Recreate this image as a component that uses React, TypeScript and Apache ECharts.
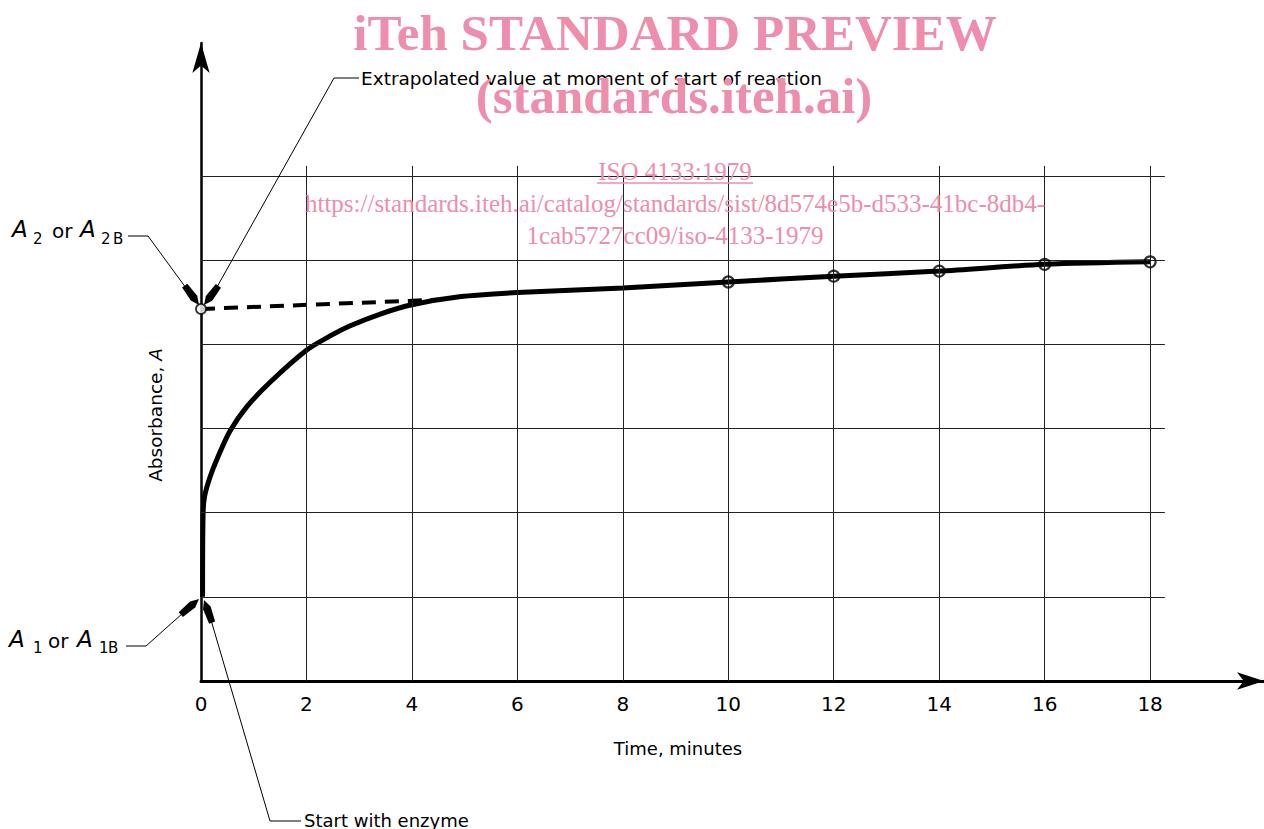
import React, { useEffect, useRef } from "react";
import * as echarts from "echarts";

// Main kinetic curve (time in minutes, absorbance in grid units)
const curveTime = [0.03, 0.04, 0.07, 0.17, 0.32, 0.55, 0.87, 1.31, 2.0, 2.45, 2.83, 3.4, 4.0, 4.9, 6.0, 8.0, 10, 12, 14, 16, 18];
const curveAbs = [1.0, 2.0, 2.2, 2.42, 2.66, 2.97, 3.26, 3.55, 3.93, 4.1, 4.22, 4.36, 4.47, 4.565, 4.615, 4.67, 4.74, 4.81, 4.87, 4.95, 4.98];

// Measured points (open circles)
const markerTime = [10, 12, 14, 16, 18];
const markerAbs = [4.74, 4.81, 4.87, 4.95, 4.98];

// Extrapolated (dashed) line back to start of reaction
const extrapTime = [0, 4.5];
const extrapAbs = [4.42, 4.53];

// Grid lines
const gridXs = [2, 4, 6, 8, 10, 12, 14, 16, 18];
const gridYs = [1, 2, 3, 4, 5, 6];
const xTickLabels = ["0", "2", "4", "6", "8", "10", "12", "14", "16", "18"];

const FONT = "DejaVu Sans";
const PINK = "#EE8DAC";

function dart(tip: number[], from: number[], len = 24, w = 8) {
  const dx = tip[0] - from[0];
  const dy = tip[1] - from[1];
  const d = Math.sqrt(dx * dx + dy * dy);
  const ux = dx / d, uy = dy / d;
  const nx = -uy, ny = ux;
  const at = (k: number, s: number) => [tip[0] - ux * len * k + nx * s, tip[1] - uy * len * k + ny * s];
  return {
    type: "polygon",
    z: 50,
    shape: {
      points: [tip, at(0.35, w / 2), at(1, w * 0.4), at(1, -w * 0.4), at(0.35, -w / 2)],
    },
    style: { fill: "#000" },
  };
}

function leader(points: number[][]) {
  return {
    type: "polyline",
    z: 50,
    shape: { points },
    style: { stroke: "#000", lineWidth: 1, fill: "none" },
  };
}

function txt(text: string, x: number, y: number, size: number, opts: any = {}) {
  return {
    type: "text",
    z: 50,
    x,
    y,
    style: {
      text,
      fill: opts.fill || "#000",
      font: `${opts.style || "normal"} ${opts.weight || "normal"} ${size}px ${opts.family || FONT}`,
      align: opts.align || "left",
      verticalAlign: "middle",
    },
  };
}

export default function App() {
  const ref = useRef<HTMLDivElement>(null);
  useEffect(() => {
    if (!ref.current) return;
    const chart = echarts.init(ref.current, undefined, { renderer: "svg" });

    const vLines = gridXs.map((x) => [{ coord: [x, 0] }, { coord: [x, 6.12] }]);
    const hLines = gridYs.map((y) => [{ coord: [0, y] }, { coord: [18.28, y] }]);

    const option: any = {
      animation: false,
      backgroundColor: "#fff",
      grid: { left: 201, top: 43, right: 0, bottom: 148, containLabel: false },
      xAxis: {
        type: "value",
        min: 0,
        max: 20.16,
        interval: 2,
        axisLine: {
          show: true,
          onZero: false,
          symbol: ["none", "arrow"],
          symbolSize: [13, 27],
          lineStyle: { color: "#000", width: 3 },
        },
        axisTick: { show: false },
        splitLine: { show: false },
        axisLabel: {
          formatter: (v: number) => {
            const i = Math.round(v / 2);
            return i < xTickLabels.length && Math.abs(v - i * 2) < 1e-6 ? xTickLabels[i] : "";
          },
          color: "#000",
          fontFamily: FONT,
          fontSize: 20,
          margin: 13,
          showMaxLabel: false,
        },
      },
      yAxis: {
        type: "value",
        min: 0,
        max: 7.58,
        interval: 1,
        axisLine: {
          show: true,
          onZero: false,
          symbol: ["none", "arrow"],
          symbolSize: [13, 30],
          lineStyle: { color: "#000", width: 2.5 },
        },
        axisTick: { show: false },
        splitLine: { show: false },
        axisLabel: { show: false },
      },
      series: [
        {
          type: "line",
          data: [],
          silent: true,
          markLine: {
            silent: true,
            symbol: ["none", "none"],
            label: { show: false },
            lineStyle: { color: "#222", width: 1, type: "solid" },
            emphasis: { disabled: true },
            data: [...vLines, ...hLines],
          },
        },
        {
          type: "line",
          data: extrapTime.map((t, i) => [t, extrapAbs[i]]),
          showSymbol: false,
          lineStyle: { color: "#000", width: 4, type: [14, 9] },
          z: 3,
        },
        {
          type: "line",
          data: curveTime.map((t, i) => [t, curveAbs[i]]),
          showSymbol: false,
          smooth: 0.3,
          lineStyle: { color: "#000", width: 5 },
          z: 4,
        },
        {
          type: "scatter",
          data: markerTime.map((t, i) => [t, markerAbs[i]]),
          symbol: "circle",
          symbolSize: 11,
          itemStyle: { color: "rgba(255,255,255,0)", borderColor: "#000", borderWidth: 2.2 },
          z: 5,
        },
        {
          type: "scatter",
          data: [[extrapTime[0], extrapAbs[0]]],
          symbol: "circle",
          symbolSize: 10,
          itemStyle: { color: "#fff", borderColor: "#000", borderWidth: 1.8 },
          z: 6,
        },
      ],
      graphic: [
        // axis titles
        txt("Time, minutes", 678, 748, 18, { align: "center" }),
        {
          type: "text",
          z: 50,
          x: 155,
          y: 415,
          rotation: Math.PI / 2,
          style: {
            text: "{n|Absorbance, }{i|A}",
            align: "center",
            verticalAlign: "middle",
            rich: {
              n: { fontFamily: FONT, fontSize: 18.5, fill: "#000" },
              i: { fontFamily: FONT, fontSize: 18.5, fontStyle: "italic", fill: "#000" },
            },
          },
        },
        // Extrapolated annotation
        txt("Extrapolated value at moment of start of reaction", 361, 78, 18.5),
        leader([[359, 78], [334, 78], [217, 287]]),
        dart([204, 305], [222, 281]),
        // A2 annotation
        txt("A", 12, 229, 23, { style: "italic" }),
        txt("2", 33, 239, 15),
        txt("or", 52, 231, 20),
        txt("A", 80, 229, 23, { style: "italic" }),
        txt("2", 101, 239, 15),
        txt("B", 113, 239, 15),
        leader([[128, 236], [148, 236], [186, 288]]),
        dart([199, 305], [182, 282]),
        // A1 annotation
        txt("A", 9, 639, 23, { style: "italic" }),
        txt("1", 33, 648, 15),
        txt("or", 48, 641, 20),
        txt("A", 77, 639, 23, { style: "italic" }),
        txt("1", 99, 648, 15),
        txt("B", 108, 648, 15),
        leader([[126, 646], [146, 646], [183, 613]]),
        dart([199, 599], [178, 617]),
        // Start with enzyme
        leader([[211, 620], [270, 821], [301, 821]]),
        dart([204, 600], [213, 625]),
        txt("Start with enzyme", 304, 820, 18),
        // watermark
        txt("iTeh STANDARD PREVIEW", 675, 33, 51, { align: "center", weight: "bold", family: "Liberation Serif", fill: PINK }),
        txt("(standards.iteh.ai)", 674, 96, 51, { align: "center", weight: "bold", family: "Liberation Serif", fill: PINK }),
        txt("ISO 4133:1979", 675, 171, 25, { align: "center", family: "Liberation Serif", fill: PINK }),
        {
          type: "line",
          z: 50,
          shape: { x1: 597, y1: 183, x2: 753, y2: 183 },
          style: { stroke: PINK, lineWidth: 1.5 },
        },
        txt("https://standards.iteh.ai/catalog/standards/sist/8d574e5b-d533-41bc-8db4-", 675, 203, 25, { align: "center", family: "Liberation Serif", fill: PINK }),
        txt("1cab5727cc09/iso-4133-1979", 675, 235, 25, { align: "center", family: "Liberation Serif", fill: PINK }),
      ],
    };
    chart.setOption(option);
    return () => chart.dispose();
  }, []);
  return (
    <div
      ref={ref}
      style={{ position: "absolute", left: 0, top: 0, width: 1264, height: 829, background: "#fff" }}
    />
  );
}
